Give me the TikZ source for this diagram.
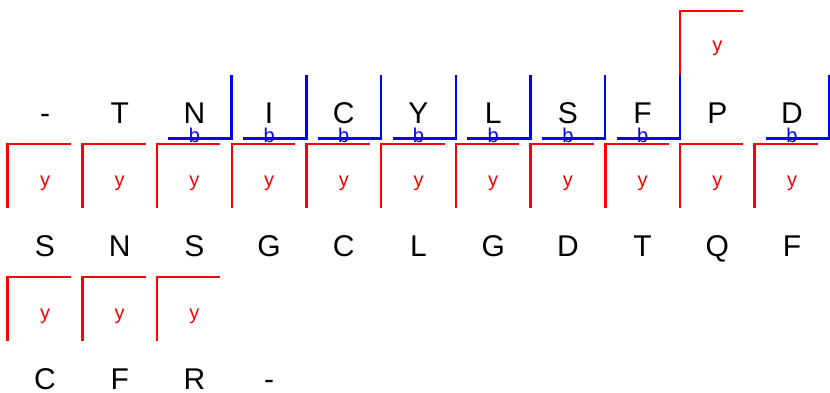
\documentclass[tikz,border=0pt]{standalone}
\usepackage{fontspec}
\setmainfont{Liberation Sans}
\usetikzlibrary{calc}
\begin{document}
\begin{tikzpicture}[x=1pt,y=-1pt,
    aa/.style={font=\fontsize{30}{30}\selectfont, inner sep=0pt, anchor=base},
    ionlab/.style={font=\fontsize{20}{20}\selectfont, inner sep=0pt, anchor=base},
    bion/.style={blue, line width=2.5pt},
    yion/.style={red, line width=2.5pt}]
    \useasboundingbox (0,0) rectangle (830,392);
    % the three rows of the sequence
    \foreach \s [count=\i from 0] in {-,T,N,I,C,Y,L,S,F,P,D}
        \node[aa] (a\i) at (45+74.7*\i,123) {\s};
    \foreach \s [count=\i from 0] in {S,N,S,G,C,L,G,D,T,Q,F}
        \node[aa] (b\i) at (45+74.7*\i,256) {\s};
    \foreach \s [count=\i from 0] in {C,F,R,-}
        \node[aa] (c\i) at (45+74.7*\i,389) {\s};
    % y ions (red)
    \foreach \r/\i in {a/0,a/1,a/2,a/3,a/4,a/5,a/6,a/7,a/8,a/9,a/10,b/0,b/1,b/2} {
        \draw[yion] ($(\r\i.base)+(26,21)$) -- ++(-63.3,0) -- ++(0,64);
        \node[ionlab, red] (y\r\i) at ($(\r\i.base)+(0,63)$) {y};
    }
    \draw[yion] ($(a9.base)+(-37.3,-48)$) -- ++(0,-64) -- ++(63.3,0);
    \node[ionlab, red] (ytop) at ($(a9.base)+(0,-72)$) {y};
    % b ions (blue)
    \foreach \i in {2,...,8,10} {
        \draw[bion] ($(a\i.base)+(-26,15.5)$) -- ++(63.3,0) -- ++(0,-63.5);
        \node[ionlab, blue] (bion\i) at ($(a\i.base)+(0,19.5)$) {b};
    }
\end{tikzpicture}
\end{document}
